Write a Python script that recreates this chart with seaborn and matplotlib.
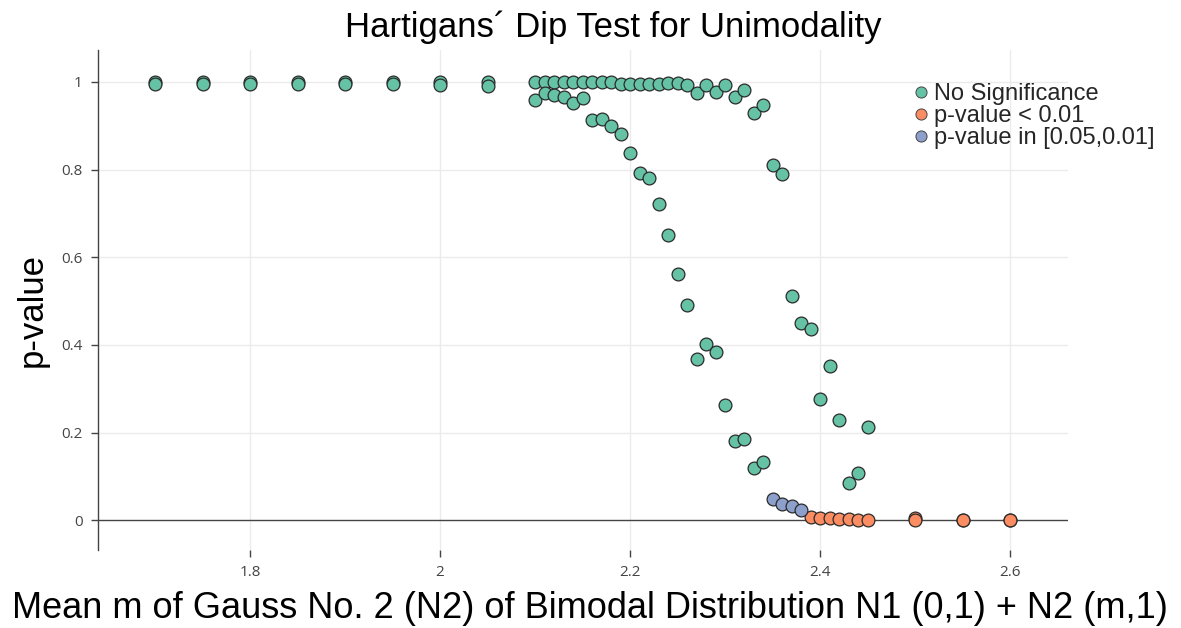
import numpy as np
import pandas as pd
import matplotlib
matplotlib.use("Agg")
import matplotlib.pyplot as plt
import seaborn as sns
from matplotlib.lines import Line2D

# ---- data ----
m_values = [1.70, 1.75, 1.80, 1.85, 1.90, 1.95, 2.00, 2.05,
            2.10, 2.11, 2.12, 2.13, 2.14, 2.15, 2.16, 2.17, 2.18, 2.19,
            2.20, 2.21, 2.22, 2.23, 2.24, 2.25, 2.26, 2.27, 2.28, 2.29,
            2.30, 2.31, 2.32, 2.33, 2.34, 2.35, 2.36, 2.37, 2.38, 2.39,
            2.40, 2.41, 2.42, 2.43, 2.44, 2.45, 2.50, 2.55, 2.60]
p_run1 = [1.000, 1.000, 1.000, 1.000, 1.000, 1.000, 1.000, 1.000,
          1.000, 1.000, 1.000, 1.000, 1.000, 1.000, 1.000, 1.000, 1.000, 0.996,
          0.995, 0.995, 0.996, 0.996, 0.998, 0.997, 0.993, 0.976, 0.992, 0.978,
          0.993, 0.966, 0.982, 0.930, 0.947, 0.811, 0.790, 0.512, 0.451, 0.436,
          0.276, 0.352, 0.228, 0.086, 0.108, 0.213, 0.006, 0.000, 0.000]
p_run2 = [0.996, 0.996, 0.995, 0.996, 0.995, 0.995, 0.993, 0.990,
          0.960, 0.974, 0.970, 0.966, 0.953, 0.964, 0.913, 0.916, 0.900, 0.881,
          0.839, 0.792, 0.780, 0.721, 0.650, 0.562, 0.492, 0.369, 0.402, 0.384,
          0.262, 0.180, 0.186, 0.120, 0.133, 0.048, 0.038, 0.032, 0.023, 0.007,
          0.006, 0.004, 0.003, 0.002, 0.001, 0.001, 0.000, 0.000, 0.000]
categories = ["No Significance", "p-value < 0.01", "p-value in [0.05,0.01]"]
colors = ["#66c2a5", "#fc8d62", "#8da0cb"]
x_ticks = [1.8, 2.0, 2.2, 2.4, 2.6]
x_tick_labels = ["1.8", "2", "2.2", "2.4", "2.6"]
y_ticks = [0, 0.2, 0.4, 0.6, 0.8, 1.0]
y_tick_labels = ["0", "0.2", "0.4", "0.6", "0.8", "1"]


def classify(p):
    if p < 0.01:
        return categories[1]
    if p <= 0.05:
        return categories[2]
    return categories[0]


df = pd.DataFrame({
    "m": m_values + m_values,
    "p": p_run1 + p_run2,
})
df["cat"] = [classify(p) for p in df["p"]]

# ---- figure ----
sns.set_theme(style="white")
plt.rcParams["font.family"] = ["Liberation Sans", "DejaVu Sans"]

fig = plt.figure(figsize=(11.81, 6.28), dpi=100)
ax = fig.add_axes([98 / 1181, 78 / 628, 970 / 1181, 500 / 628])

ax.set_xlim(1.64, 2.661)
ax.set_ylim(-0.068, 1.073)

# grid
for xt in x_ticks:
    ax.axvline(xt, color="#ebebeb", lw=1.0, zorder=0)
for yt in y_ticks[1:]:
    ax.axhline(yt, color="#ebebeb", lw=1.0, zorder=0)
ax.axhline(0, color="#444444", lw=1.0, zorder=1)

palette = dict(zip(categories, colors))
for cat in categories:
    sub = df[df["cat"] == cat]
    sns.scatterplot(data=sub, x="m", y="p", color=palette[cat], s=85,
                    edgecolor="#2a2a2a", linewidth=0.9, ax=ax, zorder=3,
                    legend=False)

# axes styling
for side in ["top", "right", "bottom"]:
    ax.spines[side].set_visible(False)
ax.spines["left"].set_color("#444444")
ax.spines["left"].set_linewidth(1.0)

ax.set_xticks(x_ticks)
ax.set_xticklabels(x_tick_labels, fontfamily="Open Sans", fontsize=11, color="#444444")
ax.set_yticks(y_ticks)
ax.set_yticklabels(y_tick_labels, fontfamily="Open Sans", fontsize=11, color="#444444")
ax.tick_params(axis="both", which="major", direction="out", length=5, width=1,
               color="#444444", bottom=True, left=True, pad=6)
ax.set_xlabel("")
ax.set_ylabel("")

fig.text(0.5195, 0.957, "Hartigans\u00b4 Dip Test for Unimodality", ha="center",
         va="center", fontsize=25, color="black")
fig.text(0.4996, 0.031,
         "Mean m of Gauss No. 2 (N2) of Bimodal Distribution N1 (0,1) + N2 (m,1)",
         ha="center", va="center", fontsize=26, color="black")
fig.text(0.027, 0.506, "p-value", ha="center", va="center", rotation=90,
         fontsize=25, color="black")

handles = [Line2D([0], [0], marker="o", linestyle="", markerfacecolor=c,
                  markeredgecolor="#444444", markeredgewidth=0.7, markersize=8)
           for c in colors]
fig.legend(handles, categories, loc="upper left",
           bbox_to_anchor=(900 / 1181, 1 - 74 / 628), frameon=False,
           fontsize=17, handletextpad=0.05, labelspacing=0.0,
           borderaxespad=0, handlelength=1.0)

fig.savefig("out.png", dpi=100)
